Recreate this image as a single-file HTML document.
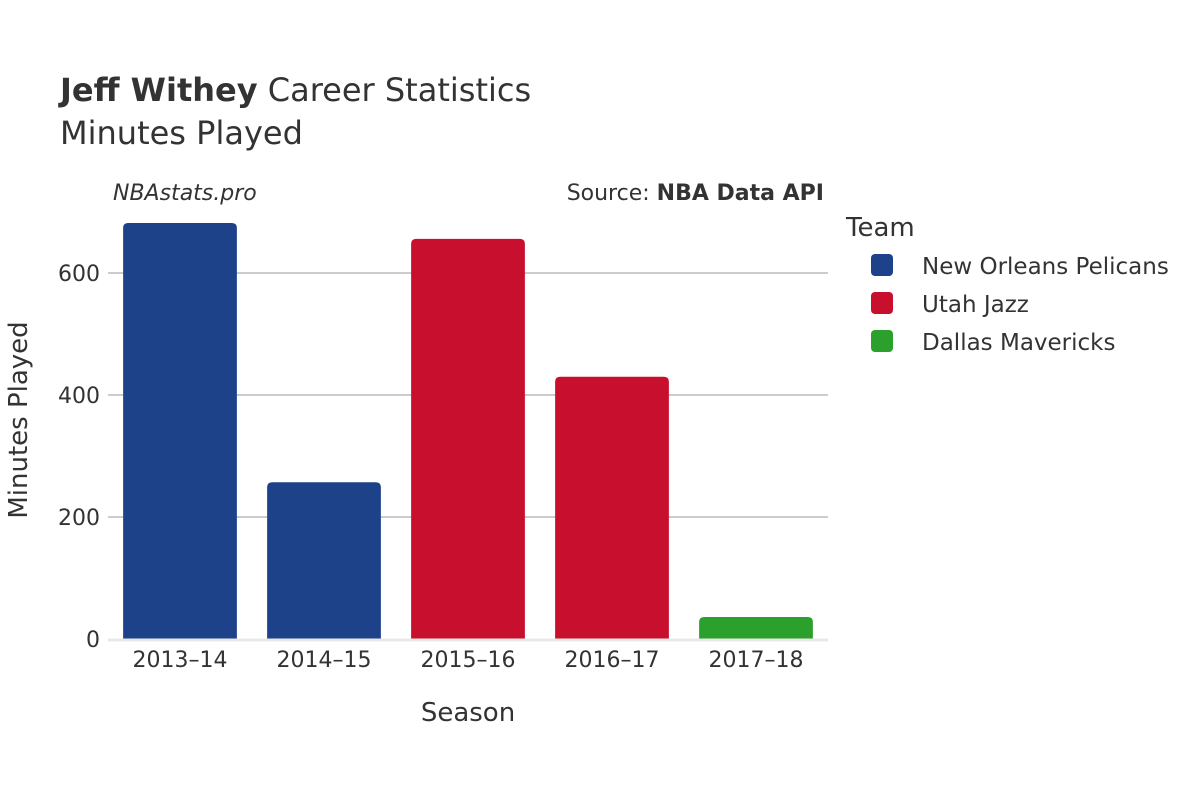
<!DOCTYPE html>
<html><head><meta charset="utf-8"><style>
body{margin:0;background:#fff;}
svg text{font-family:"DejaVu Sans","Liberation Sans",sans-serif;fill:#333;}
</style></head><body>
<svg width="1200" height="800" xmlns="http://www.w3.org/2000/svg" id="chart">
<text x="60" y="101" font-size="32"><tspan font-weight="bold">Jeff Withey</tspan> Career Statistics</text>
<text x="60" y="144" font-size="32">Minutes Played</text>
<text x="113" y="200" font-size="22" font-style="italic">NBAstats.pro</text>
<text x="824" y="200" font-size="22" text-anchor="end">Source: <tspan font-weight="bold">NBA Data API</tspan></text>
<g id="grid"></g>
<g id="bars"></g>
<g id="xticks"></g>
<text x="468" y="721" font-size="26" text-anchor="middle">Season</text>
<text transform="translate(27,420) rotate(-90)" font-size="26" text-anchor="middle">Minutes Played</text>
<text x="846" y="236" font-size="26">Team</text>
<g id="legend"></g>
</svg>
<script>
const seasons=["2013–14","2014–15","2015–16","2016–17","2017–18"];
const minutes=[682,257,656,430,36];
const teams=["New Orleans Pelicans","New Orleans Pelicans","Utah Jazz","Utah Jazz","Dallas Mavericks"];
const yTicks=[0,200,400,600];
const legendTeams=["New Orleans Pelicans","Utah Jazz","Dallas Mavericks"];
const colors={"New Orleans Pelicans":"#1d4289","Utah Jazz":"#c8102e","Dallas Mavericks":"#2ca02c"};
const NS="http://www.w3.org/2000/svg";
const x0=108,x1=828,yBase=639,pxPer=0.61;
const band=(x1-x0)/seasons.length;
const y=v=>yBase-v*pxPer;
const xc=i=>x0+band*(i+0.5);
function mk(tag,attrs,parent){const e=document.createElementNS(NS,tag);for(const k in attrs)e.setAttribute(k,attrs[k]);parent.appendChild(e);return e;}
const grid=document.getElementById('grid');
yTicks.forEach(t=>{
  if(t>0){const l=mk('line',{x1:x0,x2:x1,y1:y(t),y2:y(t),stroke:'#999','stroke-width':1},grid);
  
  }
  const tx=mk('text',{x:100,y:y(t)+8,'font-size':22,'text-anchor':'end'},grid);
  tx.textContent=t;
  
  
});
const bars=document.getElementById('bars');
const bw=band*0.79;
minutes.forEach((v,i)=>{
  const top=y(v),h=yBase-top,r=Math.min(5,h/2);
  const xl=xc(i)-bw/2,xr=xc(i)+bw/2;
  const p=mk('path',{d:`M${xl},${yBase}V${top+r}Q${xl},${top} ${xl+r},${top}H${xr-r}Q${xr},${top} ${xr},${top+r}V${yBase}Z`,fill:colors[teams[i]]},bars);
  
  
});
const ax=mk('line',{x1:x0,x2:x1,y1:yBase+1,y2:yBase+1,stroke:'#e8e8e8','stroke-width':3},bars);


const xt=document.getElementById('xticks');
seasons.forEach((s,i)=>{
  const t=mk('text',{x:xc(i),y:667,'font-size':22,'text-anchor':'middle'},xt);
  t.textContent=s;
  
  
});
const lg=document.getElementById('legend');
legendTeams.forEach((tm,i)=>{
  const g=mk('g',{},lg);
  
  
  const cy=265+i*38;
  mk('rect',{x:871,y:cy-11,width:22,height:22,rx:4,fill:colors[tm]},g);
  const t=mk('text',{x:922,y:cy+9,'font-size':23},g);
  t.textContent=tm;
});
</script>
</body></html>
